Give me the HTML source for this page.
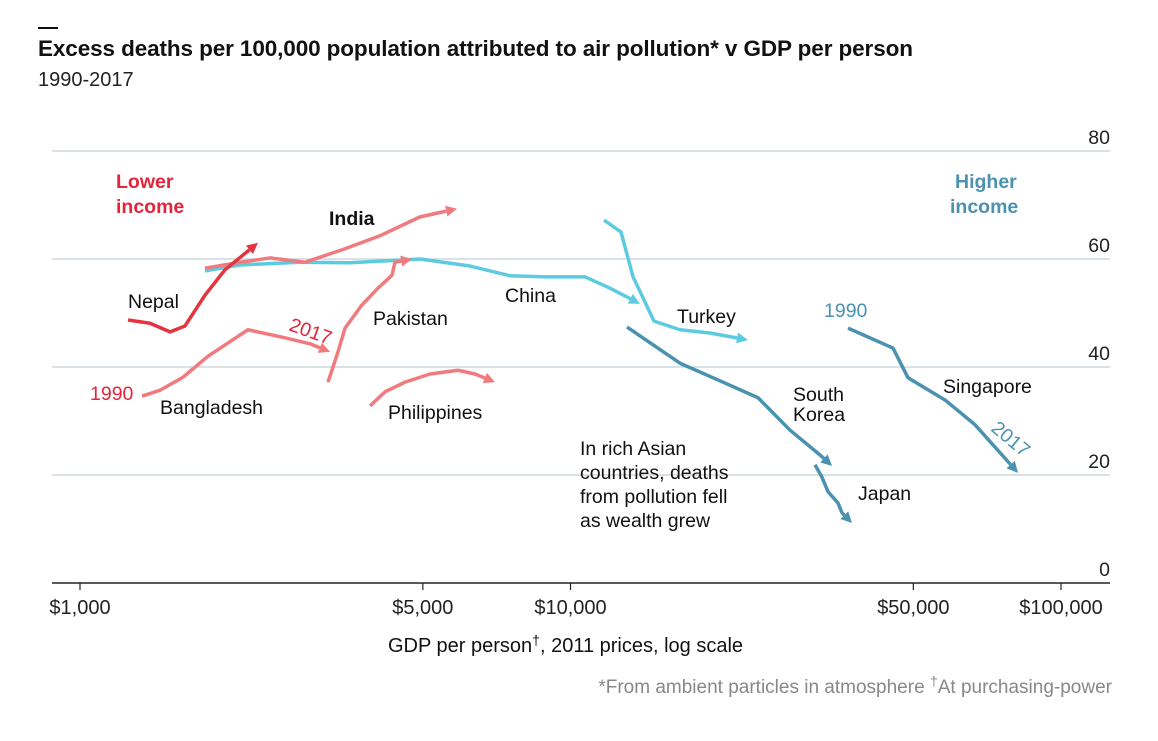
<!DOCTYPE html>
<html><head><meta charset="utf-8"><style>
body{margin:0;background:#fff;font-family:"Liberation Sans",sans-serif;}
svg text{font-family:"Liberation Sans",sans-serif;}
</style></head><body>
<svg width="1158" height="736">
<line x1="38" y1="28" x2="58" y2="28" stroke="#111" stroke-width="2"/>
<text x="38" y="56" font-size="22.5" font-weight="bold" fill="#111" textLength="875">Excess deaths per 100,000 population attributed to air pollution* v GDP per person</text>
<text x="38" y="86" font-size="20" fill="#222">1990-2017</text>
<g id="grid"></g>
<g id="series"></g>
<g id="labels" font-size="19.5" fill="#111">
<text x="116" y="188" font-weight="bold" fill="#e3243a">Lower</text>
<text x="116" y="213" font-weight="bold" fill="#e3243a">income</text>
<text x="955" y="188" font-weight="bold" fill="#4a92b0">Higher</text>
<text x="950" y="213" font-weight="bold" fill="#4a92b0">income</text>
<text x="329" y="225" font-weight="bold">India</text>
<text x="128" y="308">Nepal</text>
<text x="373" y="325">Pakistan</text>
<text x="505" y="302">China</text>
<text x="677" y="323">Turkey</text>
<text x="160" y="414">Bangladesh</text>
<text x="388" y="419">Philippines</text>
<text x="90" y="400" fill="#e3243a">1990</text>
<text x="288" y="330" fill="#e3243a" transform="rotate(20 288 330)">2017</text>
<text x="824" y="317" fill="#4a92b0">1990</text>
<text x="990" y="430" fill="#4a92b0" transform="rotate(40 990 430)">2017</text>
<text x="793" y="401">South</text>
<text x="793" y="421">Korea</text>
<text x="943" y="393">Singapore</text>
<text x="858" y="500">Japan</text>
<text x="580" y="455">In rich Asian</text>
<text x="580" y="479">countries, deaths</text>
<text x="580" y="503">from pollution fell</text>
<text x="580" y="527">as wealth grew</text>
</g>
<text x="388" y="652" font-size="20" fill="#111">GDP per person<tspan font-size="14" dy="-7">†</tspan><tspan dy="7">, 2011 prices, log scale</tspan></text>
<text x="1112" y="693" font-size="19" fill="#888" text-anchor="end">*From ambient particles in atmosphere <tspan font-size="14" dy="-7">†</tspan><tspan dy="7">At purchasing-power</tspan></text>
</svg>
<script>
const yTicks=[0,20,40,60,80];
const xTicks=[1000,5000,10000,50000,100000];
const xTickLabels=["$1,000","$5,000","$10,000","$50,000","$100,000"];
const nepalGdp=[1253,1389,1526,1637,1798,1975,2306];
const nepalDeaths=[48.7,48.1,46.5,47.6,53.3,58.0,63.0];
const indiaGdp=[1798,2120,2440,2875,3470,4088,4934,5870];
const indiaDeaths=[58.3,59.4,60.2,59.4,61.9,64.3,67.8,69.3];
const chinaGdp=[1798,2120,2809,3552,4491,4934,6238,7528,8872,10706,12036,13859];
const chinaDeaths=[57.8,58.9,59.4,59.3,59.8,60.0,58.7,56.9,56.7,56.7,54.6,51.7];
const pakistanGdp=[3203,3357,3470,3757,4050,4326,4387,4753];
const pakistanDeaths=[37.2,42.8,47.2,51.5,54.6,57.0,59.4,60.0];
const bangladeshGdp=[1338,1456,1622,1824,2200,2617,2944,3234];
const bangladeshDeaths=[34.6,35.7,38.1,42.0,46.9,45.4,44.3,42.8];
const philippinesGdp=[3903,4187,4598,5172,5897,6388,7018];
const philippinesDeaths=[32.8,35.4,37.2,38.7,39.4,38.7,37.2];
const turkeyGdp=[11705,12675,13413,14800,16720,19250,23000];
const turkeyDeaths=[67.2,65.0,56.7,48.5,46.9,46.3,45.0];
const koreaGdp=[13040,16720,19980,24120,28030,32270,34140];
const koreaDeaths=[47.4,40.7,37.6,34.3,28.3,23.7,21.7];
const japanGdp=[31510,32560,33500,35110,35770,37490];
const japanDeaths=[21.9,19.6,16.9,14.8,13.0,11.1];
const singaporeGdp=[36790,45450,48770,58010,66800,81720];
const singaporeDeaths=[47.2,43.5,38.0,33.9,29.3,20.4];

const NS="http://www.w3.org/2000/svg";
function xs(v){return 80+490.5*Math.log10(v/1000);}
function ys(v){return 583-5.4*v;}
function mk(t,a){const e=document.createElementNS(NS,t);for(const k in a)e.setAttribute(k,a[k]);return e;}
const grid=document.getElementById('grid');
yTicks.forEach(v=>{
  const l=mk('line',{x1:52,x2:1110,y1:ys(v),y2:ys(v),stroke:v===0?'#222':'#c3d0da','stroke-width':v===0?1.5:1.2});
  
  
  grid.appendChild(l);
  const t=mk('text',{x:1110,y:ys(v)-7,'text-anchor':'end','font-size':19.5,fill:'#222'});
  t.textContent=v;
  
  
  grid.appendChild(t);
});
xTicks.forEach((v,i)=>{
  const l=mk('line',{x1:xs(v),x2:xs(v),y1:583,y2:590,stroke:'#222','stroke-width':1.2});
  
  
  grid.appendChild(l);
  const t=mk('text',{x:xs(v),y:614,'text-anchor':'middle','font-size':20,fill:'#222'});
  t.textContent=xTickLabels[i];
  
  
  grid.appendChild(t);
});
const sg=document.getElementById('series');
function draw(name,gx,dy,col){
  const p=gx.map((g,i)=>[xs(g),ys(dy[i])]);
  const n=p.length,a=p[n-2],b=p[n-1];
  const ang=Math.atan2(b[1]-a[1],b[0]-a[0]);
  const L=11,W=5.5;
  const bx=b[0]-L*Math.cos(ang),by=b[1]-L*Math.sin(ang);
  const pts=p.slice(0,n-1).concat([[bx,by]]);
  const pl=mk('polyline',{points:pts.map(q=>q.join(',')).join(' '),fill:'none',stroke:col,'stroke-width':3.5,'stroke-linejoin':'round'});
  
  
  sg.appendChild(pl);
  const px=-Math.sin(ang),py=Math.cos(ang);
  const hd=mk('polygon',{points:`${b[0]},${b[1]} ${bx+px*W},${by+py*W} ${bx-px*W},${by-py*W}`,fill:col});
  
  
  sg.appendChild(hd);
}
draw('china',chinaGdp,chinaDeaths,'#5ccbe0');
draw('india',indiaGdp,indiaDeaths,'#f07b7f');
draw('nepal',nepalGdp,nepalDeaths,'#e3343f');
draw('pakistan',pakistanGdp,pakistanDeaths,'#f07b7f');
draw('bangladesh',bangladeshGdp,bangladeshDeaths,'#f07b7f');
draw('philippines',philippinesGdp,philippinesDeaths,'#f07b7f');
draw('turkey',turkeyGdp,turkeyDeaths,'#5ccbe0');
draw('south-korea',koreaGdp,koreaDeaths,'#4a92b0');
draw('japan',japanGdp,japanDeaths,'#4a92b0');
draw('singapore',singaporeGdp,singaporeDeaths,'#4a92b0');
</script>
</body></html>
